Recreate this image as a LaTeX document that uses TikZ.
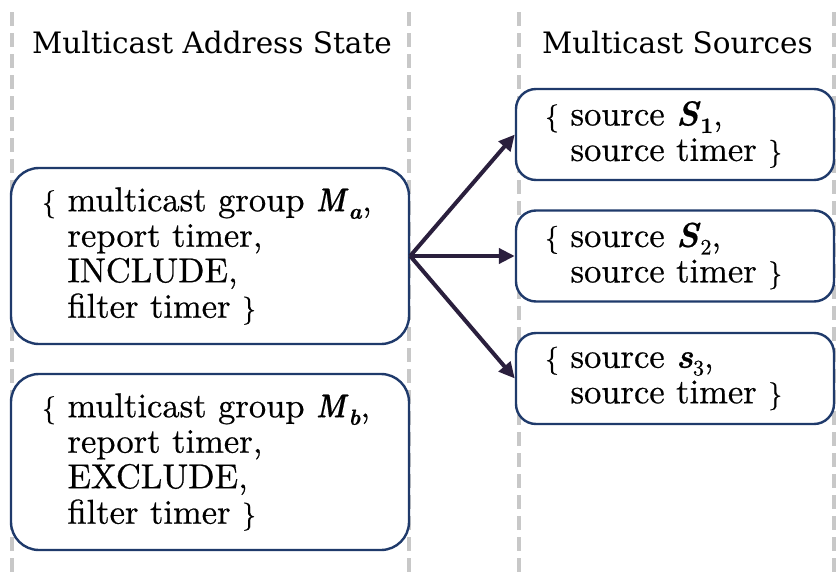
\documentclass[tikz,border=0pt]{standalone}
\usepackage{fontspec}
\newfontfamily\headfont{DejaVu Serif}
\newfontfamily\boxfont{lmroman10-regular.otf}[FakeBold=0.6, BoldFont=lmroman10-bold.otf, ItalicFont=lmroman10-italic.otf, BoldItalicFont=lmroman10-bolditalic.otf]
\newcommand\bitl[1]{\textbf{\textit{#1}}}
\newcommand\bigM{\scalebox{0.8}[0.95]{\bitl{M}}}
\newcommand\subsc[1]{\raisebox{-0.22em}[0pt][0pt]{\fontsize{22}{22}\selectfont #1}}
\newcommand\obr{{\fontsize{28}{28}\selectfont\{}}
\newcommand\cbr{{\fontsize{28}{28}\selectfont\}}}
\usetikzlibrary{arrows.meta}
\definecolor{boxline}{HTML}{1F3A6B}
\definecolor{arrowc}{HTML}{2A1F3D}
\definecolor{dashc}{HTML}{C8C8C8}
\tikzset{
  sepline/.style={draw=dashc, line width=4.5pt, dash pattern=on 14pt off 7pt},
  boxbase/.style={draw=boxline, fill=white, line width=2.4pt, inner ysep=0pt, align=left,
    font=\boxfont\fontsize{34.5}{35.5}\selectfont},
  bigbox/.style={boxbase, rounded corners=28pt, minimum width=398pt, minimum height=176pt,
    inner xsep=31pt, text width=336pt},
  smallbox/.style={boxbase, rounded corners=20pt, minimum width=318pt, minimum height=91pt,
    inner xsep=29pt, text width=260pt},
  heading/.style={anchor=base west, inner sep=0pt, font=\headfont\fontsize{29.5}{32}\selectfont},
  arr/.style={draw=arrowc, line width=4pt, -{Triangle[length=16pt,width=15pt]}}
}
\begin{document}
\begin{tikzpicture}[x=1pt,y=-1pt]
\useasboundingbox (0,0) rectangle (836,573);
% separators
\foreach \xx in {12,409,519,834} \draw[sepline] (\xx,12) -- (\xx,573);
% headings
\node[heading] (h1) at (32,53) {Multicast Address State};
\node[heading] (h2) at (542,53) {Multicast Sources};
% left boxes
\node[bigbox] (Ma) at (210,256) {\mbox{\obr{} multicast group \bigM\subsc{\bitl{a}},}\\ \hphantom{\obr{} }report timer,\\ \hphantom{\obr{} }INCLUDE,\\ \hphantom{\obr{} }filter timer \cbr};
\node[bigbox] (Mb) at (210,462) {\mbox{\obr{} multicast group \bigM\subsc{\bitl{b}},}\\ \hphantom{\obr{} }report timer,\\ \hphantom{\obr{} }EXCLUDE,\\ \hphantom{\obr{} }filter timer \cbr};
% right boxes
\node[smallbox] (S1) at (675,134.5) {\mbox{\obr{} source \bitl{S}\subsc{\textbf{1}},}\\ \hphantom{\obr{} }source timer \cbr};
\node[smallbox] (S2) at (675,256) {\mbox{\obr{} source \bitl{S}\subsc{2},}\\ \hphantom{\obr{} }source timer \cbr};
\node[smallbox] (S3) at (675,378.5) {\mbox{\obr{} source \bitl{s}\subsc{3},}\\ \hphantom{\obr{} }source timer \cbr};
% arrows
\draw[arr] (Ma.east) -- (S1.west);
\draw[arr] (Ma.east) -- (S2.west);
\draw[arr] (Ma.east) -- (S3.west);
\end{tikzpicture}
\end{document}
